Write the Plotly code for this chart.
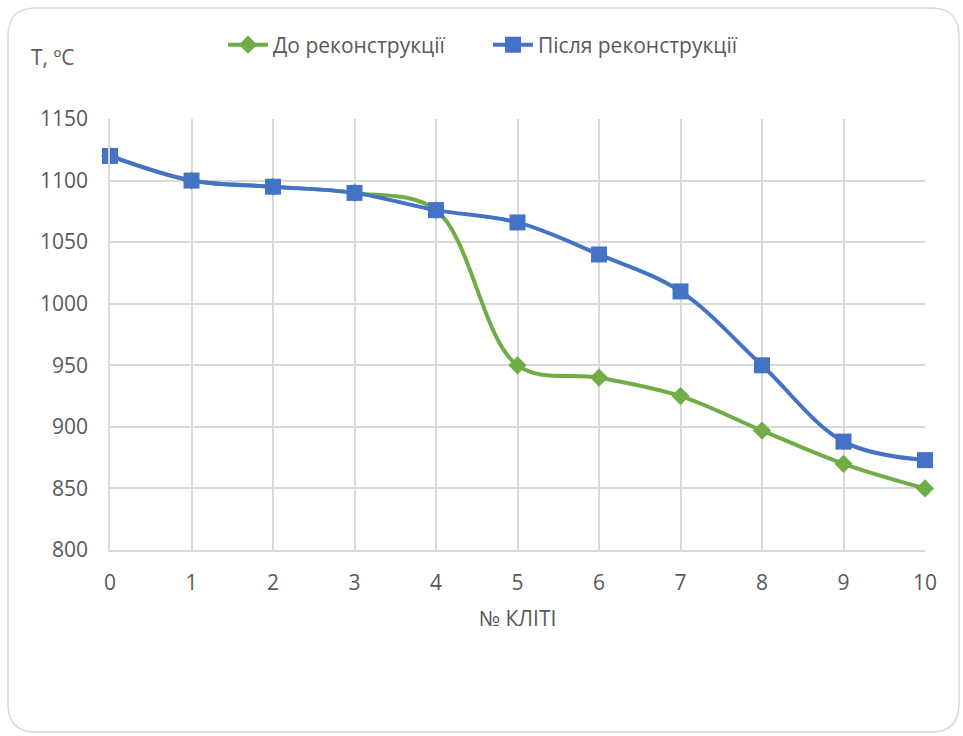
import plotly.graph_objects as go

stands = [0, 1, 2, 3, 4, 5, 6, 7, 8, 9, 10]
before = [1120, 1100, 1095, 1090, 1076, 950, 940, 925, 897, 870, 850]
after = [1120, 1100, 1095, 1090, 1076, 1066, 1040, 1010, 950, 888, 873]
name_before = "До реконструкції"
name_after = "Після реконструкції"
x_title = "№ КЛІТІ"
y_title = "Т, ºC"

W, H = 963, 736
L, R, T, B = 110, 38, 119, 186
pw, ph = W - L - R, H - T - B

def px(x):
    return (x - L) / pw

def py(y):
    return (H - B - y) / ph

FONT = "Open Sans"
GREY = "#595959"
FS = 21

fig = go.Figure()
fig.add_trace(go.Scatter(
    x=stands, y=before, name=name_before, mode="lines+markers",
    line=dict(color="#70AD47", width=4, shape="spline", smoothing=1.0),
    marker=dict(symbol="diamond", size=14, color="#70AD47"),
))
fig.add_trace(go.Scatter(
    x=stands, y=after, name=name_after, mode="lines+markers",
    line=dict(color="#4472C4", width=4, shape="spline", smoothing=1.0),
    marker=dict(symbol="square", size=16, color="#4472C4"),
))

# rounded border of chart area
x0, x1, y0, y1 = px(8), px(959), py(732), py(8)
rx, ry = 28 / pw, 28 / ph
path = (f"M {x0+rx},{y1} L {x1-rx},{y1} Q {x1},{y1} {x1},{y1-ry} "
        f"L {x1},{y0+ry} Q {x1},{y0} {x1-rx},{y0} L {x0+rx},{y0} "
        f"Q {x0},{y0} {x0},{y0+ry} L {x0},{y1-ry} Q {x0},{y1} {x0+rx},{y1} Z")
fig.add_shape(type="path", path=path, xref="paper", yref="paper",
              line=dict(color="#D9D9D9", width=1.5), layer="below")

fig.add_annotation(text=y_title, xref="paper", yref="paper",
                   x=px(29), y=py(57), xanchor="left", yanchor="middle",
                   showarrow=False, font=dict(family=FONT, size=FS, color=GREY))

fig.update_layout(
    width=W, height=H,
    margin=dict(l=L, r=R, t=T, b=B, autoexpand=False),
    paper_bgcolor="white", plot_bgcolor="white",
    font=dict(family=FONT, size=FS, color=GREY),
    showlegend=True,
    legend=dict(orientation="h", x=px(223), y=py(45), xanchor="left",
                yanchor="middle", font=dict(family=FONT, size=FS, color=GREY),
                itemwidth=40, entrywidth=210, entrywidthmode="pixels",
                traceorder="normal"),
    xaxis=dict(range=[0, 10], tickmode="array", tickvals=stands,
               showgrid=True, gridcolor="#D9D9D9", gridwidth=1.5,
               showline=True, linecolor="#D9D9D9", linewidth=1.5,
               zeroline=False, ticks="", ticklabelstandoff=13,
               title=dict(text=x_title, standoff=16,
                          font=dict(family=FONT, size=FS, color=GREY))),
    yaxis=dict(range=[800, 1150], dtick=50,
               showgrid=True, gridcolor="#D9D9D9", gridwidth=1.5,
               showline=True, linecolor="#D9D9D9", linewidth=1.5,
               zeroline=False, ticks="", ticklabelstandoff=16),
)
fig.update_traces(cliponaxis=False)

fig.write_html("out.html")
